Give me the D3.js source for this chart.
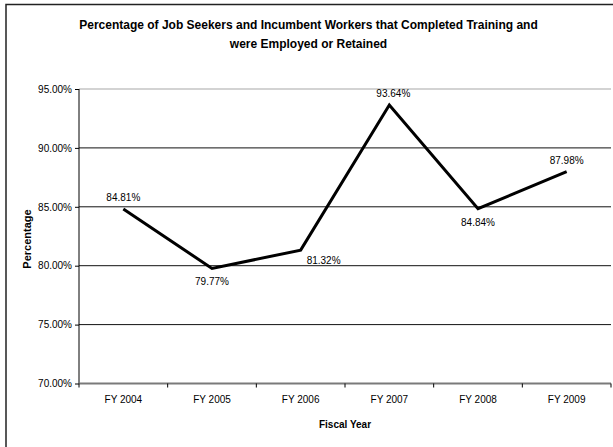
<!DOCTYPE html>
<html><head><meta charset="utf-8">
<script src="https://cdn.jsdelivr.net/npm/d3@7"></script>
<style>body{margin:0;background:#fff}svg{display:block}text{font-family:"Liberation Sans",Arial,sans-serif;fill:#000}</style>
</head><body>
<script>
const categories = ["FY 2004","FY 2005","FY 2006","FY 2007","FY 2008","FY 2009"];
const values = [84.81, 79.77, 81.32, 93.64, 84.84, 87.98];
const labelPos = ["above","below","right","above","below","above"];
const yTicks = [70, 75, 80, 85, 90, 95];
const titleLines = ["Percentage of Job Seekers and Incumbent Workers that Completed Training and","were Employed or Retained"];

const W = 613, H = 447;
const svg = d3.select("body").append("svg").attr("width", W).attr("height", H);
svg.append("rect").attr("x",6).attr("y",4.5).attr("width",700).attr("height",600)
  .attr("fill","#fff").attr("stroke","#222").attr("stroke-width",1.5);

const m = {left:79, right:611, top:89, bottom:383.5};
const x = d3.scaleBand().domain(categories).range([m.left, m.right]);
const y = d3.scaleLinear().domain([70,95]).range([m.bottom, m.top]);

// gridlines
svg.append("g").selectAll("line").data(yTicks.filter(d=>d>70)).join("line")
  .attr("x1",m.left).attr("x2",m.right)
  .attr("y1",d=>y(d)).attr("y2",d=>y(d))
  .attr("stroke",d=>d===95?"#c4c4c4":"#111").attr("stroke-width",d=>d===95?1.5:1);

// y axis
const ya = svg.append("g").attr("transform",`translate(${m.left},0)`)
  .call(d3.axisLeft(y).tickValues(yTicks).tickSize(4).tickPadding(3).tickFormat(d=>d.toFixed(2)+"%"));
ya.select(".domain").attr("stroke","#000").attr("d",`M0,${m.top}V${m.bottom}`);
ya.selectAll("text").attr("font-size",10).attr("font-family","Liberation Sans, Arial").attr("fill","#222");
ya.selectAll(".tick line").attr("stroke","#000");

// x axis
const xa = svg.append("g").attr("transform",`translate(0,${m.bottom})`)
  .call(d3.axisBottom(x).tickSize(0).tickPadding(12));
xa.select(".domain").attr("stroke","#7a7a7a").attr("stroke-width",2).attr("d",`M${m.left},0H${m.right}`);
xa.selectAll("text").attr("font-size",10).attr("font-family","Liberation Sans, Arial").attr("fill","#222");
// band boundary ticks
svg.append("g").selectAll("line").data(categories).join("line")
  .attr("x1",d=>x(d)+x.bandwidth()).attr("x2",d=>x(d)+x.bandwidth())
  .attr("y1",m.bottom).attr("y2",m.bottom+4).attr("stroke","#000");
svg.append("line").attr("x1",m.left).attr("x2",m.left).attr("y1",m.bottom).attr("y2",m.bottom+4).attr("stroke","#000");

// line
const cx = d => x(d) + x.bandwidth()/2;
svg.append("path").datum(values)
  .attr("fill","none").attr("stroke","#000").attr("stroke-width",3).attr("stroke-linejoin","miter")
  .attr("d", d3.line().x((d,i)=>cx(categories[i])).y(d=>y(d)));

// data labels
svg.append("g").selectAll("text").data(values).join("text")
  .attr("font-size",10).attr("fill","#222")
  .attr("text-anchor",(d,i)=>labelPos[i]==="right"?"start":"middle")
  .attr("x",(d,i)=>labelPos[i]==="right"?cx(categories[i])+6:cx(categories[i])+(i===3?4:0))
  .attr("y",(d,i)=>{const p=y(d); return labelPos[i]==="above"?p-8:labelPos[i]==="below"?p+17:p+14;})
  .text(d=>d.toFixed(2)+"%");

// titles
svg.append("g").selectAll("text").data(titleLines).join("text")
  .attr("x",308.5).attr("y",(d,i)=>29+i*19).attr("text-anchor","middle")
  .attr("font-size",12).attr("font-weight","bold").text(d=>d);

svg.append("text").attr("x",345).attr("y",428).attr("text-anchor","middle")
  .attr("font-size",10).attr("font-weight","bold").text("Fiscal Year");
svg.append("text").attr("transform","translate(31,239) rotate(-90)").attr("text-anchor","middle")
  .attr("font-size",11).attr("font-weight","bold").text("Percentage");
</script>
</body></html>
